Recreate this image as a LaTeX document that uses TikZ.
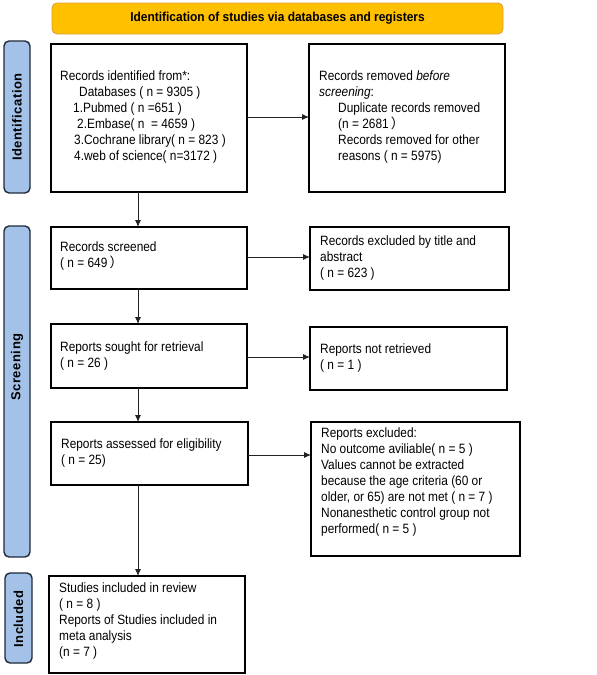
\documentclass[tikz,border=0pt]{standalone}
\usepackage{fontspec}
\setmainfont{Liberation Sans}[FakeStretch=0.88]
\newfontfamily\hdrfont{Liberation Sans}[FakeStretch=0.92]
\newfontfamily\sidefont{Liberation Sans}[LetterSpace=4]
\newfontfamily\cjk{Noto Sans CJK SC}
\newcommand{\fwp}{\,{\cjk ）}}
\usetikzlibrary{arrows.meta}
\definecolor{hdrfill}{HTML}{FFC000}
\definecolor{hdrdraw}{HTML}{D9A030}
\definecolor{sidefill}{HTML}{A4C2E8}
\definecolor{sidedraw}{HTML}{1F2A3A}
\definecolor{arrowcol}{HTML}{222222}
\begin{document}
\begin{tikzpicture}[x=1pt,y=-1pt,
  font=\fontsize{13.5}{16}\selectfont,
  header/.style={draw=hdrdraw, line width=0.8pt, fill=hdrfill, rounded corners=5pt},
  hdrtext/.style={font=\hdrfont\fontsize{13}{16}\selectfont\bfseries},
  side/.style={draw=sidedraw, line width=1.4pt, fill=sidefill, rounded corners=5pt},
  sidetext/.style={rotate=90, font=\sidefont\fontsize{13}{15}\selectfont\bfseries},
  flowbox/.style={draw=black, line width=1.2pt},
  txt/.style={anchor=west, align=left, inner sep=0pt},
  conn/.style={draw=arrowcol, line width=0.9pt, -{Latex[length=7pt,width=6pt]}}
]
\useasboundingbox (0,0) rectangle (597,675);

% header
\path[header] (52,3) rectangle (503,34);
\node[hdrtext] (hdr) at (277.5,18.5) {Identification of studies via databases and registers};

% side labels
\path[side] (4,41) rectangle (30,193);
\node[sidetext] (sid) at (17,117) {Identification};
\path[side] (4,226) rectangle (30,557);
\node[sidetext] (sscr) at (17,367) {Screening};
\path[side] (5,573) rectangle (32,663);
\node[sidetext] (sinc) at (18.5,619) {Included};

% boxes
\path[flowbox] (51,44) rectangle (247,192);
\node[txt] (b1) at (60,117.5) {Records identified from*:\\
\hspace*{19pt}Databases ( n = 9305 )\\
\hspace*{13pt}1.Pubmed ( n =651 )\\
\hspace*{17pt}2.Embase( n \ = 4659 )\\
\hspace*{14pt}3.Cochrane library( n = 823 )\\
\hspace*{14pt}4.web of science( n=3172 )};
\coordinate (b1b) at (138,192);
\coordinate (b1r) at (247,117);

\path[flowbox] (309,44) rectangle (505,192);
\node[txt] (b2) at (319,117.5) {Records removed \textit{before}\\
\textit{screening}:\\
\hspace*{19pt}Duplicate records removed\\
\hspace*{19pt}(n = 2681\fwp\\
\hspace*{19pt}Records removed for other\\
\hspace*{19pt}reasons ( n = 5975)};
\coordinate (b2l) at (309,117);

\path[flowbox] (51,227) rectangle (247,289);
\node[txt] (b3) at (60,256.5) {Records screened\\( n = 649\fwp};
\coordinate (b3t) at (138,227);
\coordinate (b3b) at (138,289);
\coordinate (b3r) at (247,257);

\path[flowbox] (310,227) rectangle (509,290);
\node[txt] (b4) at (320,258) {Records excluded by title and\\abstract\\( n = 623 )};
\coordinate (b4l) at (310,257);

\path[flowbox] (51,324) rectangle (247,388);
\node[txt] (b5) at (60,356) {Reports sought for retrieval\\( n = 26 )};
\coordinate (b5t) at (138,324);
\coordinate (b5b) at (138,388);
\coordinate (b5r) at (247,357);

\path[flowbox] (310,327) rectangle (507,390);
\node[txt] (b6) at (320,358) {Reports not retrieved\\( n = 1 )};
\coordinate (b6l) at (310,357);

\path[flowbox] (51,422) rectangle (248,485);
\node[txt] (b7) at (61,453) {Reports assessed for eligibility\\( n = 25)};
\coordinate (b7t) at (138,422);
\coordinate (b7b) at (138,485);
\coordinate (b7r) at (248,455);

\path[flowbox] (311,422) rectangle (520,556);
\node[txt] (b8) at (321,482.5) {Reports excluded:\\
No outcome aviliable( n = 5 )\\
Values cannot be extracted\\
because the age criteria (60 or\\
older, or 65) are not met ( n = 7 )\\
Nonanesthetic control group not\\
performed( n = 5 )};
\coordinate (b8l) at (311,455);

\path[flowbox] (49,576) rectangle (245,673);
\node[txt] (b9) at (59,620.5) {Studies included in review\\
( n = 8 )\\
Reports of Studies included in\\
meta analysis\\
(n = 7 )};
\coordinate (b9t) at (138,576);

% connectors
\draw[conn] (b1b) -- (b3t);
\draw[conn] (b1r) -- (b2l);
\draw[conn] (b3b) -- (b5t);
\draw[conn] (b3r) -- (b4l);
\draw[conn] (b5b) -- (b7t);
\draw[conn] (b5r) -- (b6l);
\draw[conn] (b7b) -- (b9t);
\draw[conn] (b7r) -- (b8l);
\end{tikzpicture}
\end{document}
